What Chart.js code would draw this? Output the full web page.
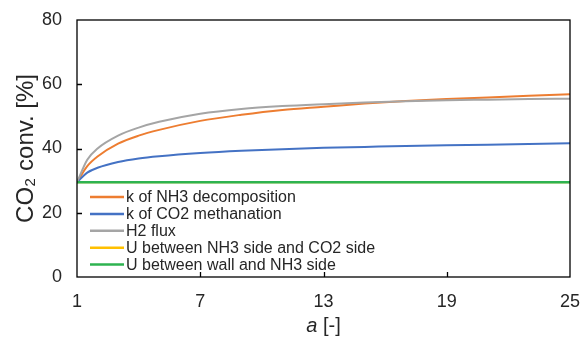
<!DOCTYPE html>
<html lang="en">
<head>
    <meta charset="UTF-8">
    <title>CO2 conversion vs a</title>
    <script src="https://cdn.jsdelivr.net/npm/chart.js"></script>
    <style>
        html, body {
            margin: 0;
            padding: 0;
            background: #ffffff;
        }
        #wrap {
            width: 582px;
            height: 339px;
        }
    </style>
</head>
<body>
    <div id="wrap"><canvas id="myChart" width="582" height="339"></canvas></div>

    <script>
        // values
        const aValues = [1, 1.5, 2, 3, 4, 5, 7, 9, 11, 13, 15, 17, 19, 21, 23, 25];
        const kNH3 = [29.5, 34.5, 37.5, 41.5, 44.0, 45.8, 48.6, 50.5, 52.0, 53.0, 54.0, 54.8, 55.4, 55.9, 56.4, 56.9];
        const kCO2 = [29.5, 32.5, 34.0, 35.8, 36.9, 37.6, 38.6, 39.3, 39.8, 40.2, 40.5, 40.8, 41.0, 41.2, 41.4, 41.6];
        const h2Flux = [29.5, 36.5, 40.0, 44.0, 46.5, 48.3, 50.8, 52.3, 53.2, 53.8, 54.3, 54.7, 55.0, 55.2, 55.4, 55.5];
        const uNH3CO2 = [29.5, 29.5, 29.5, 29.5, 29.5, 29.5, 29.5, 29.5, 29.5, 29.5, 29.5, 29.5, 29.5, 29.5, 29.5, 29.5];
        const uWallNH3 = [29.5, 29.5, 29.5, 29.5, 29.5, 29.5, 29.5, 29.5, 29.5, 29.5, 29.5, 29.5, 29.5, 29.5, 29.5, 29.5];

        const seriesLabels = [
            'k of NH3 decomposition',
            'k of CO2 methanation',
            'H2 flux',
            'U between NH3 side and CO2 side',
            'U between wall and NH3 side'
        ];
        const xTicks = [1, 7, 13, 19, 25];
        const yTicks = [0, 20, 40, 60, 80];

        const textColor = '#262626';
        const fontName = '"Liberation Sans", Arial, sans-serif';

        function pts(ys) {
            return aValues.map((a, i) => ({ x: a, y: ys[i] }));
        }

        // later series are painted on top, like the original
        function lineSet(label, ys, color, width, idx) {
            return {
                label: label,
                data: pts(ys),
                borderColor: color,
                backgroundColor: color,
                borderWidth: width,
                pointRadius: 0,
                tension: 0.4,
                cubicInterpolationMode: 'monotone',
                fill: false,
                order: 10 - idx
            };
        }

        // frame, inward ticks, legend and x title
        const decorPlugin = {
            id: 'decor',
            afterDatasetsDraw(chart) {
                const ctx = chart.ctx;
                const area = chart.chartArea;
                const xs = chart.scales.x;
                const ys = chart.scales.y;
                ctx.save();
                ctx.strokeStyle = '#000000';
                ctx.lineWidth = 1.3;
                ctx.strokeRect(area.left, area.top, area.right - area.left, area.bottom - area.top);

                ctx.beginPath();
                xTicks.slice(1, -1).forEach(v => {
                    const px = Math.round(xs.getPixelForValue(v)) + 0.5;
                    ctx.moveTo(px, area.bottom);
                    ctx.lineTo(px, area.bottom - 5);
                });
                yTicks.slice(1, -1).forEach(v => {
                    const py = Math.round(ys.getPixelForValue(v)) + 0.5;
                    ctx.moveTo(area.left, py);
                    ctx.lineTo(area.left + 5, py);
                });
                ctx.stroke();

                // legend inside the plot, bottom left
                ctx.font = '16px ' + fontName;
                ctx.textBaseline = 'middle';
                ctx.textAlign = 'left';
                chart.data.datasets.forEach((ds, i) => {
                    const y = 197 + i * 16.9;
                    ctx.strokeStyle = ds.borderColor;
                    ctx.lineWidth = 2.5;
                    ctx.beginPath();
                    ctx.moveTo(area.left + 13, y);
                    ctx.lineTo(area.left + 47, y);
                    ctx.stroke();
                    ctx.fillStyle = textColor;
                    ctx.fillText(ds.label, area.left + 49, y + 1);
                });

                // x title: italic a then [-]
                ctx.font = 'italic 20px ' + fontName;
                const aW = ctx.measureText('a').width;
                ctx.font = '20px ' + fontName;
                const restW = ctx.measureText(' [-]').width;
                const cx = (area.left + area.right) / 2;
                const sx = cx - (aW + restW) / 2;
                ctx.fillStyle = textColor;
                ctx.textBaseline = 'middle';
                ctx.font = 'italic 20px ' + fontName;
                ctx.fillText('a', sx, 326);
                ctx.font = '20px ' + fontName;
                ctx.fillText(' [-]', sx + aW, 326);
                ctx.restore();
            }
        };

        const ctx = document.getElementById('myChart').getContext('2d');
        const chart = new Chart(ctx, {
            type: 'line',
            data: {
                datasets: [
                    lineSet(seriesLabels[0], kNH3, '#ED7D31', 2, 0),
                    lineSet(seriesLabels[1], kCO2, '#4472C4', 2, 1),
                    lineSet(seriesLabels[2], h2Flux, '#A5A5A5', 2, 2),
                    lineSet(seriesLabels[3], uNH3CO2, '#FFC000', 2, 3),
                    lineSet(seriesLabels[4], uWallNH3, '#2EB350', 2.4, 4)
                ]
            },
            options: {
                responsive: false,
                animation: false,
                layout: {
                    padding: { top: 20, right: 0, left: 0, bottom: 0 }
                },
                scales: {
                    x: {
                        type: 'linear',
                        min: 1,
                        max: 25,
                        afterBuildTicks: (s) => { s.ticks = xTicks.map(v => ({ value: v })); },
                        afterFit: (s) => {
                            s.height = 62;
                            s.paddingRight = 12;
                            s.paddingLeft = 0;
                        },
                        grid: { display: false },
                        border: { display: false },
                        ticks: {
                            color: textColor,
                            padding: 6,
                            maxRotation: 0,
                            font: { size: 18, family: fontName }
                        }
                    },
                    y: {
                        min: 0,
                        max: 80,
                        afterBuildTicks: (s) => { s.ticks = yTicks.map(v => ({ value: v })); },
                        afterFit: (s) => {
                            s.width = 77;
                            s.paddingTop = 0;
                            s.paddingBottom = 0;
                        },
                        grid: { display: false },
                        border: { display: false },
                        ticks: {
                            color: textColor,
                            padding: 7,
                            font: { size: 18, family: fontName }
                        },
                        title: {
                            display: true,
                            text: 'CO\u2082 conv. [%]',
                            color: textColor,
                            padding: { top: 12, bottom: 0 },
                            font: { size: 24, family: fontName }
                        }
                    }
                },
                plugins: {
                    legend: { display: false },
                    tooltip: { enabled: false }
                }
            },
            plugins: [decorPlugin]
        });
    </script>
</body>
</html>
